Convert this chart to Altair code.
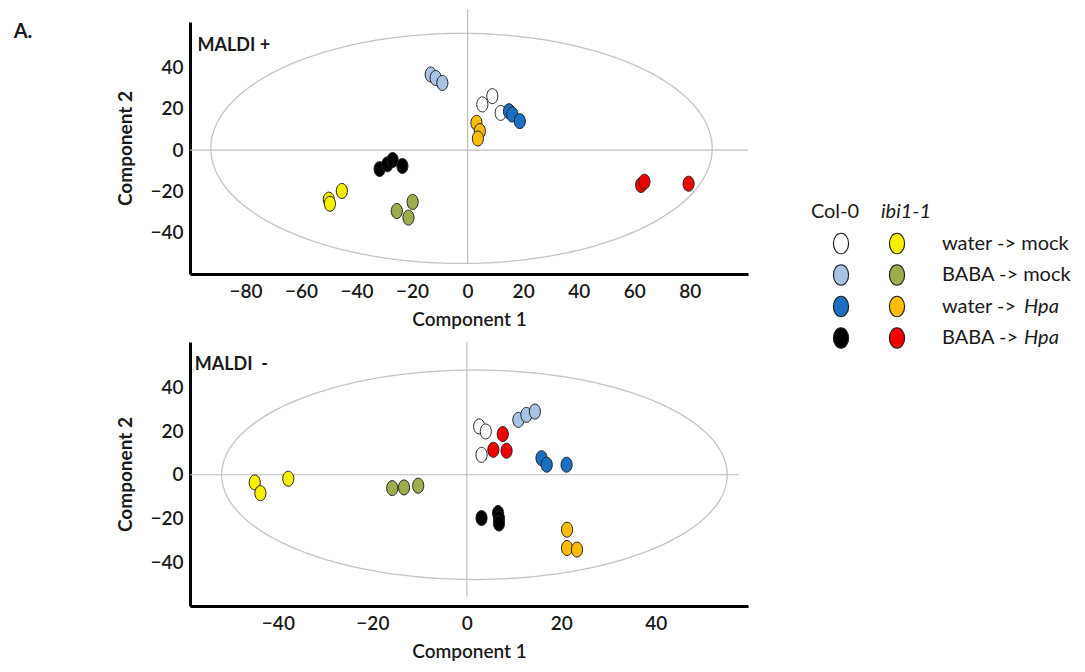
import altair as alt
import numpy as np
import pandas as pd

# ---------------- data ----------------
GENOTYPES = ["Col-0", "ibi1-1"]
TREATMENTS = ["water -> mock", "BABA -> mock", "water -> Hpa", "BABA -> Hpa"]
COL0_COLORS = ["#ffffff", "#a8c3e3", "#1b6fc0", "#000000"]
IBI_COLORS = ["#f5ef00", "#9cae4c", "#fbbc0a", "#f00000"]

# MALDI + (component 1, component 2) per treatment, same order as TREATMENTS
POS_COL0_C1 = [[5.3, 8.9, 11.9], [-13.3, -11.5, -9.1], [14.9, 16.1, 18.8], [-31.7, -28.9, -27.0, -23.5]]
POS_COL0_C2 = [[22.1, 26.1, 18.0], [36.6, 34.9, 32.5], [18.8, 17.2, 14.0], [-9.2, -6.9, -4.8, -7.7]]
POS_IBI_C1 = [[-50.0, -49.6, -45.3], [-25.5, -21.3, -19.8], [3.2, 4.4, 3.7], [62.5, 63.7, 79.6]]
POS_IBI_C2 = [[-24.0, -26.0, -19.8], [-29.5, -32.7, -25.1], [13.2, 9.2, 5.6], [-16.9, -15.3, -16.3]]

# MALDI -
NEG_COL0_C1 = [[2.6, 4.0, 3.1], [10.9, 12.6, 14.4], [15.8, 16.9, 21.1], [3.1, 6.6, 6.8, 6.8]]
NEG_COL0_C2 = [[22.1, 19.8, 9.1], [25.1, 27.4, 28.9], [7.6, 4.6, 4.6], [-19.8, -17.5, -20.0, -22.3]]
NEG_IBI_C1 = [[-44.9, -43.7, -37.8], [-15.8, -13.3, -10.3], [21.2, 21.2, 23.3], [5.6, 7.6, 8.4]]
NEG_IBI_C2 = [[-3.5, -8.4, -1.8], [-6.1, -5.8, -5.0], [-25.1, -33.5, -34.2], [11.4, 18.6, 11.0]]

# confidence ellipses: centre and semi-axes (component units)
POS_ELLIPSE = {"cx": -2.2, "cy": 0.8, "rx": 90.3, "ry": 55.7}
NEG_ELLIPSE = {"cx": 1.6, "cy": 0.0, "rx": 53.5, "ry": 47.9}

POS_X_TICKS = [-80, -60, -40, -20, 0, 20, 40, 60, 80]
POS_Y_TICKS = [-40, -20, 0, 20, 40]
NEG_X_TICKS = [-40, -20, 0, 20, 40]
NEG_Y_TICKS = [-40, -20, 0, 20, 40]

FONT = "Lato"
OVAL = ("M0,-1C0.41,-1 0.74,-0.552 0.74,0C0.74,0.552 0.41,1 0,1"
        "C-0.41,1 -0.74,0.552 -0.74,0C-0.74,-0.552 -0.41,-1 0,-1Z")

GROUP_KEYS = [f"{g} | {t}" for g in GENOTYPES for t in TREATMENTS]
GROUP_COLORS = COL0_COLORS + IBI_COLORS
color_scale = alt.Scale(domain=GROUP_KEYS, range=GROUP_COLORS)


def points_frame(c0x, c0y, ibx, iby):
    rows = []
    for g, xs_all, ys_all in [("Col-0", c0x, c0y), ("ibi1-1", ibx, iby)]:
        for t, xs, ys in zip(TREATMENTS, xs_all, ys_all):
            for x, y in zip(xs, ys):
                rows.append({"group": f"{g} | {t}", "c1": x, "c2": y})
    return pd.DataFrame(rows)


def ellipse_frame(e):
    ang = np.linspace(0, 2 * np.pi, 241)
    return pd.DataFrame({
        "c1": e["cx"] + e["rx"] * np.cos(ang),
        "c2": e["cy"] + e["ry"] * np.sin(ang),
        "i": np.arange(len(ang)),
    })


def panel(pts, ell, label, label_pos, xdom, ydom, xticks, yticks, hspan, vspan, w, h, extra=None):
    xs = alt.Scale(domain=xdom, nice=False, zero=False)
    ys = alt.Scale(domain=ydom, nice=False, zero=False)
    xax = alt.Axis(values=xticks, title="Component 1", labelFontSize=19, labelFont=FONT,
                   labelFontWeight=600, labelColor="#1a1a1a", labelPadding=8,
                   titleFont=FONT, titleFontSize=19, titleFontWeight=600, titleColor="#1a1a1a",
                   titlePadding=9, domainColor="black", domainWidth=3, ticks=False, grid=False,
                   labelFlush=False)
    yax = alt.Axis(values=yticks, title="Component 2", labelFontSize=19, labelFont=FONT,
                   labelFontWeight=600, labelColor="#1a1a1a", labelPadding=7,
                   titleFont=FONT, titleFontSize=19, titleFontWeight="bold", titleColor="#1a1a1a",
                   titlePadding=14, domainColor="black", domainWidth=3, ticks=False, grid=False,
                   labelFlush=False)
    X = lambda f: alt.X(f, scale=xs, axis=xax)
    Y = lambda f: alt.Y(f, scale=ys, axis=yax)

    hrule = alt.Chart(pd.DataFrame({"a": [hspan[0]], "b": [hspan[1]], "z": [0]})).mark_rule(
        color="#bdbdbd", strokeWidth=1.2).encode(x=X("a:Q"), x2="b:Q", y=Y("z:Q"))
    vrule = alt.Chart(pd.DataFrame({"a": [vspan[0]], "b": [vspan[1]], "z": [0]})).mark_rule(
        color="#bdbdbd", strokeWidth=1.2).encode(y=Y("a:Q"), y2="b:Q", x=X("z:Q"))
    ell_line = alt.Chart(ell).mark_line(color="#c4c4c4", strokeWidth=1.3).encode(
        x=X("c1:Q"), y=Y("c2:Q"), order="i:Q")
    dots = alt.Chart(pts).mark_point(shape=OVAL, filled=True, size=225, opacity=1,
                                     stroke="#222222", strokeWidth=1).encode(
        x=X("c1:Q"), y=Y("c2:Q"),
        fill=alt.Fill("group:N", scale=color_scale, legend=None))
    txt = alt.Chart(pd.DataFrame({"a": [label_pos[0]], "b": [label_pos[1]], "t": [label]})).mark_text(
        align="left", baseline="middle", font=FONT, fontSize=18, fontWeight="bold", color="#1a1a1a"
    ).encode(x=X("a:Q"), y=Y("b:Q"), text="t:N")
    layers = [ell_line, hrule, vrule, dots, txt]
    if extra is not None:
        e = alt.Chart(pd.DataFrame({"a": [extra[0]], "b": [extra[1]], "t": [extra[2]]})).mark_text(
            align="left", baseline="middle", font=FONT, fontSize=20, fontWeight="bold", color="#1a1a1a"
        ).encode(x=X("a:Q"), y=Y("b:Q"), text="t:N")
        layers.append(e)
    return alt.layer(*layers).properties(width=w, height=h)


top = panel(points_frame(POS_COL0_C1, POS_COL0_C2, POS_IBI_C1, POS_IBI_C2),
            ellipse_frame(POS_ELLIPSE), "MALDI +", (-97.3, 50.3),
            [-100, 101], [-60, 62], POS_X_TICKS, POS_Y_TICKS,
            (-100, 101), (-55.2, 68.2), 558, 252, extra=(-163.5, 57.0, "A."))
bottom = panel(points_frame(NEG_COL0_C1, NEG_COL0_C2, NEG_IBI_C1, NEG_IBI_C2),
               ellipse_frame(NEG_ELLIPSE), "MALDI\u00a0\u00a0-", (-57.6, 50.3),
               [-58.6, 59.5], [-60, 60.7], NEG_X_TICKS, NEG_Y_TICKS,
               (-58.6, 57.6), (-55.7, 60.7), 558, 264)

# ---------------- legend built as a small chart ----------------
LEG_COLS = ["Col-0", "ibi1-1", "label"]
LEG_ROWS = ["header"] + TREATMENTS
lx = alt.Scale(type="point", domain=LEG_COLS, range=[92, 204], padding=0)
ly = alt.Scale(type="point", domain=LEG_ROWS, range=[190, 316], padding=0)

leg_pts = pd.DataFrame([{"col": g, "row": t, "group": f"{g} | {t}"} for g in GENOTYPES for t in TREATMENTS])
leg_dots = alt.Chart(leg_pts).mark_point(shape=OVAL, filled=True, size=420, opacity=1,
                                         stroke="#222222", strokeWidth=1.2).encode(
    x=alt.X("col:N", scale=lx, axis=None), y=alt.Y("row:N", scale=ly, axis=None),
    fill=alt.Fill("group:N", scale=color_scale, legend=None))
hdr_col0 = alt.Chart(pd.DataFrame({"col": ["Col-0"], "row": ["header"], "t": ["Col-0"]})).mark_text(
    font=FONT, fontSize=20, color="#1a1a1a", baseline="middle", dx=-6).encode(
    x=alt.X("col:N", scale=lx, axis=None), y=alt.Y("row:N", scale=ly, axis=None), text="t:N")
hdr_ibi = alt.Chart(pd.DataFrame({"col": ["ibi1-1"], "row": ["header"], "t": ["ibi1-1"]})).mark_text(
    font=FONT, fontSize=20, fontStyle="italic", color="#1a1a1a", baseline="middle", dx=9).encode(
    x=alt.X("col:N", scale=lx, axis=None), y=alt.Y("row:N", scale=ly, axis=None), text="t:N")
LABEL_MAIN = ["water -> mock", "BABA -> mock", "water ->", "BABA ->"]
LABEL_ITALIC = ["", "", "Hpa", "Hpa"]
lab_df = pd.DataFrame({"col": ["label"] * 4, "row": TREATMENTS, "m": LABEL_MAIN, "it": LABEL_ITALIC})
lab_main = alt.Chart(lab_df).mark_text(font=FONT, fontSize=20, color="#1a1a1a", align="left",
                                       baseline="middle", dx=-11).encode(
    x=alt.X("col:N", scale=lx, axis=None), y=alt.Y("row:N", scale=ly, axis=None), text="m:N")
lab_it = alt.Chart(lab_df).mark_text(font=FONT, fontSize=20, fontStyle="italic", color="#1a1a1a",
                                     align="left", baseline="middle", dx=71).encode(
    x=alt.X("col:N", scale=lx, axis=None), y=alt.Y("row:N", scale=ly, axis=None), text="it:N")
legend = alt.layer(leg_dots, hdr_col0, hdr_ibi, lab_main, lab_it).properties(width=330, height=360)

chart = alt.hconcat(alt.vconcat(top, bottom, spacing=12), legend, spacing=0).properties(
    padding={"left": 13, "top": 8, "right": 0, "bottom": 0}, background="white"
).configure_view(stroke=None, strokeWidth=0)

chart.save("out.html", embed_options={"renderer": "svg", "actions": False})
